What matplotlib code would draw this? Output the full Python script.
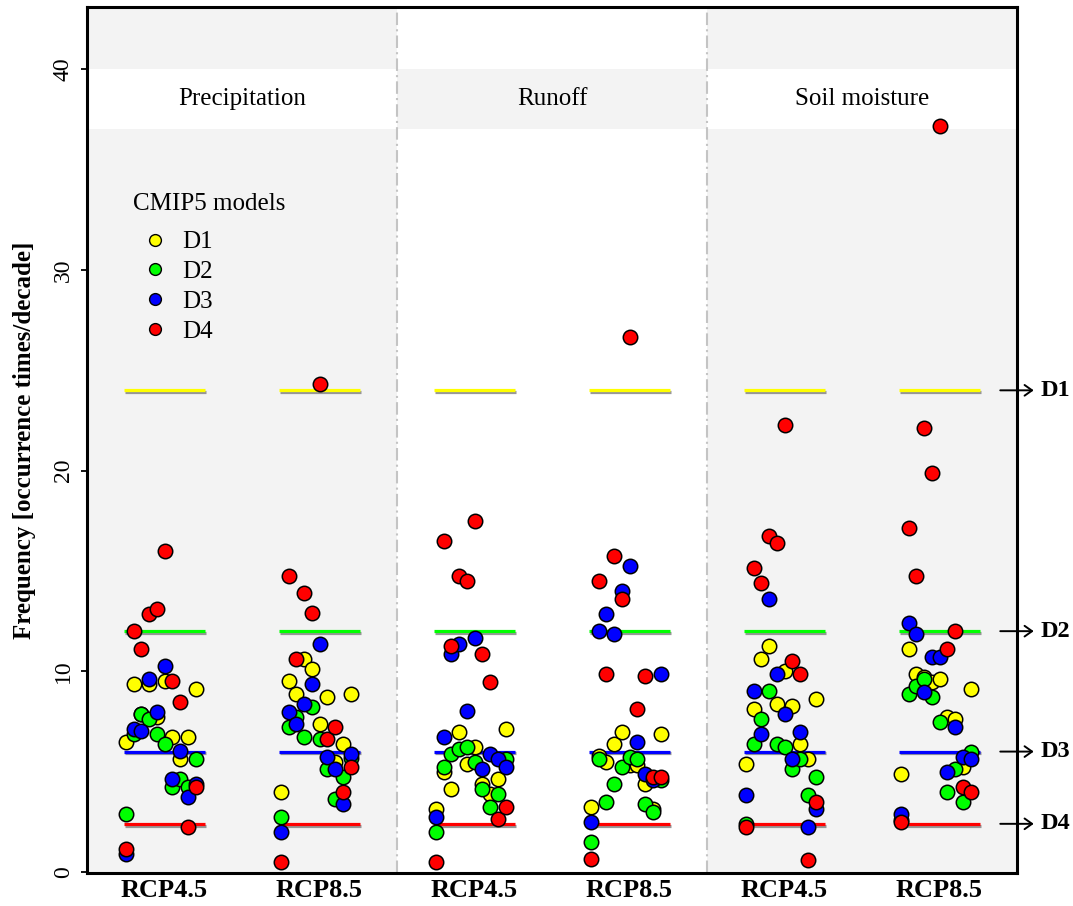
import matplotlib
matplotlib.use('Agg')
import matplotlib.pyplot as plt
import matplotlib.patheffects as pe
import matplotlib.transforms as mtransforms
from matplotlib.lines import Line2D
import numpy as np

plt.rcParams['font.family'] = ['Liberation Serif', 'DejaVu Serif']

variables = ['Precipitation', 'Runoff', 'Soil moisture']
scenarios = ['RCP4.5', 'RCP8.5']
classes = ['D1', 'D2', 'D3', 'D4']
class_colors = ['#ffff00', '#00ff00', '#0000ff', '#ff0000']
thresholds = [24, 12, 6, 2.4]
yticks = [0, 10, 20, 30, 40]

# Frequencies for the 10 CMIP5 models (listed in model order) per drought class
pr45_D1 = [6.49, 9.37, 7.85, 9.37, 7.74, 9.50, 6.73, 5.61, 6.73, 9.12]
pr45_D2 = [2.87, 6.86, 7.87, 7.61, 6.86, 6.38, 4.24, 4.62, 4.24, 5.61]
pr45_D3 = [0.88, 7.11, 7.01, 9.63, 7.99, 10.25, 4.62, 6.01, 3.75, 4.38]
pr45_D4 = [1.13, 12.00, 11.13, 12.85, 13.10, 16.00, 9.50, 8.49, 2.26, 4.24]

pr85_D1 = [3.99, 9.50, 8.87, 10.63, 10.11, 7.37, 8.74, 5.50, 6.38, 8.87]
pr85_D2 = [2.76, 7.24, 7.74, 6.74, 8.24, 6.61, 5.12, 3.62, 4.73, 5.66]
pr85_D3 = [1.99, 7.99, 7.37, 8.37, 9.37, 11.36, 5.75, 5.12, 3.37, 5.86]
pr85_D4 = [0.50, 14.76, 10.63, 13.88, 12.89, 24.30, 6.61, 7.24, 3.99, 5.25]

ro45_D1 = [3.14, 5.00, 4.12, 6.99, 5.37, 6.24, 4.38, 3.87, 4.63, 7.11]
ro45_D2 = [1.99, 5.25, 5.86, 6.14, 6.24, 5.50, 4.12, 3.25, 3.87, 5.63]
ro45_D3 = [2.76, 6.74, 10.86, 11.36, 8.00, 11.64, 5.12, 5.88, 5.63, 5.25]
ro45_D4 = [0.50, 16.49, 11.26, 14.75, 14.50, 17.50, 10.86, 9.48, 2.62, 3.25]

ro85_D1 = [3.25, 5.78, 5.48, 6.36, 6.99, 5.33, 5.33, 4.37, 3.14, 6.88]
ro85_D2 = [1.49, 5.61, 3.50, 4.37, 5.25, 5.75, 5.61, 3.37, 2.97, 4.60]
ro85_D3 = [2.49, 12.00, 12.87, 11.86, 14.00, 15.25, 6.49, 4.88, 4.60, 9.88]
ro85_D4 = [0.63, 14.52, 9.88, 15.76, 13.62, 26.66, 8.11, 9.75, 4.73, 4.73]

sm45_D1 = [5.37, 8.12, 10.63, 11.25, 8.37, 10.00, 8.25, 6.38, 5.63, 8.62]
sm45_D2 = [2.41, 6.38, 7.62, 9.00, 6.38, 6.24, 5.12, 5.63, 3.85, 4.73]
sm45_D3 = [3.85, 9.00, 6.88, 13.62, 9.87, 7.87, 5.63, 6.99, 2.24, 3.12]
sm45_D4 = [2.24, 15.13, 14.38, 16.76, 16.38, 22.26, 10.50, 9.87, 0.60, 3.49]

sm85_D1 = [4.87, 11.13, 9.87, 9.70, 9.48, 9.62, 7.74, 7.62, 5.25, 9.12]
sm85_D2 = [2.60, 8.87, 9.25, 9.62, 8.74, 7.49, 4.00, 5.12, 3.50, 5.99]
sm85_D3 = [2.87, 12.39, 11.87, 8.98, 10.73, 10.73, 5.00, 7.22, 5.75, 5.61]
sm85_D4 = [2.49, 17.14, 14.76, 22.12, 19.88, 37.17, 11.13, 12.01, 4.25, 4.00]

groups = [
    [pr45_D1, pr45_D2, pr45_D3, pr45_D4],
    [pr85_D1, pr85_D2, pr85_D3, pr85_D4],
    [ro45_D1, ro45_D2, ro45_D3, ro45_D4],
    [ro85_D1, ro85_D2, ro85_D3, ro85_D4],
    [sm45_D1, sm45_D2, sm45_D3, sm45_D4],
    [sm85_D1, sm85_D2, sm85_D3, sm85_D4],
]

fig = plt.figure(figsize=(10.73, 9.06), dpi=100)
ax = fig.add_axes([87 / 1073, 33 / 906, 930 / 1073, 866 / 906])
ax.set_xlim(0, 6)
ax.set_ylim(-0.05, 43.1)

grey = '#f3f3f3'
band_lo, band_hi = 37, 40
for p, var in enumerate(variables):
    x0 = 2 * p
    main_col = 'white' if p == 1 else grey
    band_col = grey if p == 1 else 'white'
    ax.axvspan(x0, x0 + 2, color=main_col, zorder=0, lw=0)
    ax.fill_between([x0, x0 + 2], band_lo, band_hi, color=band_col, zorder=0.5, lw=0)
    ax.text(x0 + 1, (band_lo + band_hi) / 2, var, ha='center', va='center', fontsize=18)

for xs in [2, 4]:
    ax.axvline(xs, color='#c4c4c4', lw=1.5, ls=(0, (6, 2, 1, 2)), zorder=1)

shadow = [pe.SimpleLineShadow(offset=(0.6, -1.3), shadow_color='#7f7f7f', alpha=0.8), pe.Normal()]
jit = (np.arange(10) - 5) * 0.05
for g, vals in enumerate(groups):
    c = g + 0.5
    for thr, col in zip(thresholds, class_colors):
        ax.plot([c - 0.26, c + 0.26], [thr, thr], color=col, lw=2.3,
                solid_capstyle='butt', path_effects=shadow, zorder=2)
    for k, (v, col) in enumerate(zip(vals, class_colors)):
        ax.scatter(c + jit[:len(v)], v, s=108, c=col, edgecolors='black',
                   linewidths=1.1, zorder=3 + k)

# legend
ax.text(0.297, 33.3, 'CMIP5 models', fontsize=18, va='center', ha='left', zorder=10)
handles = [Line2D([], [], ls='', marker='o', markersize=8.5, markerfacecolor=col,
                  markeredgecolor='black', markeredgewidth=1.0) for col in class_colors]
ax.legend(handles, classes, loc='upper left', bbox_to_anchor=(0.294, 31.95),
          bbox_transform=ax.transData, frameon=False, fontsize=18,
          handlelength=1.8, handletextpad=0.18, labelspacing=0.29,
          borderpad=0, borderaxespad=0)

# right side class arrows
trans = mtransforms.blended_transform_factory(ax.transAxes, ax.transData)
for thr, lab in zip(thresholds, classes):
    ax.annotate('', xy=(1.018, thr), xytext=(0.982, thr), xycoords=trans, textcoords=trans,
                arrowprops=dict(arrowstyle='->,head_length=0.45,head_width=0.32', lw=1.4,
                                color='black', shrinkA=0, shrinkB=0, mutation_scale=12),
                annotation_clip=False)
    ax.text(1.025, thr, lab, transform=trans, fontsize=17.5, fontweight='bold',
            va='center', ha='left', clip_on=False)

ax.set_yticks(yticks)
ax.set_yticklabels([str(t) for t in yticks], rotation=90, va='center')
ax.tick_params(axis='y', direction='out', length=4.5, width=1.3, labelsize=17, pad=5)
ax.set_xticks([g + 0.5 for g in range(6)])
ax.set_xticklabels(scenarios * 3, fontsize=19, fontweight='bold')
ax.tick_params(axis='x', length=0, pad=4.5)
ax.set_ylabel('Frequency [occurrence times/decade]', fontsize=18, fontweight='bold', labelpad=12)

for s in ax.spines.values():
    s.set_linewidth(2.2)
    s.set_zorder(20)

fig.savefig('out.png', dpi=100)
